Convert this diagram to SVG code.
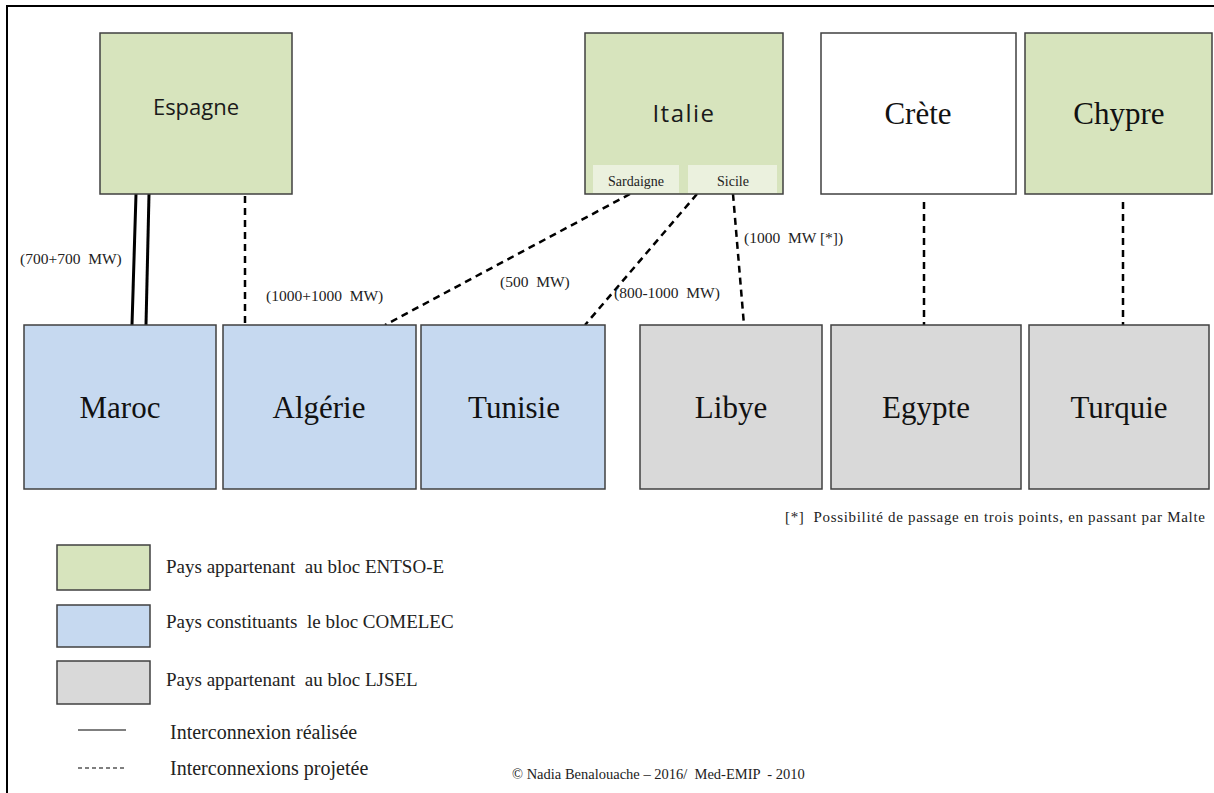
<svg xmlns="http://www.w3.org/2000/svg" width="1214" height="793" viewBox="0 0 1214 793">
<defs>
<style>
text{white-space:pre}
.g{fill:#d7e4bd;stroke:#404040;stroke-width:1.5}
.gl{fill:#ebf1de;stroke:none}
.b{fill:#c6d9f0;stroke:#404040;stroke-width:1.5}
.y{fill:#d9d9d9;stroke:#404040;stroke-width:1.5}
.w{fill:#ffffff;stroke:#404040;stroke-width:1.5}
.cs{font-family:"Liberation Serif","Times New Roman",serif;font-size:31px;fill:#111;text-anchor:middle}
.ss{font-family:"Open Sans","Liberation Sans",sans-serif;font-size:22px;fill:#1a1a1a;text-anchor:middle}
.sub{font-family:"Liberation Serif",serif;font-size:14px;fill:#222;text-anchor:middle}
.lbl{font-family:"Liberation Serif",serif;font-size:15.5px;fill:#222}
.leg{font-family:"Liberation Serif",serif;font-size:19px;fill:#222}
.leg2{font-family:"Liberation Serif",serif;font-size:20px;fill:#222}
.sm{font-family:"Liberation Serif",serif;font-size:15px;fill:#222}
.solid{stroke:#000;stroke-width:3;fill:none}
.dash{stroke:#000;stroke-width:2.5;stroke-dasharray:7 5;fill:none}
</style>
</defs>
<rect width="1214" height="793" fill="#fff"/>
<path d="M7,793 V6 H1214" fill="none" stroke="#000" stroke-width="2"/>

<g id="connectors">
<line class="solid" x1="136" y1="194" x2="132" y2="325"/>
<line class="solid" x1="149" y1="194" x2="146" y2="325"/>
<line class="dash" x1="245" y1="196" x2="245" y2="325"/>
<line class="dash" x1="630" y1="194" x2="385" y2="325"/>
<line class="dash" x1="697" y1="194" x2="585" y2="325"/>
<line class="dash" x1="733" y1="194" x2="744" y2="325"/>
<line class="dash" x1="924" y1="202" x2="924" y2="325"/>
<line class="dash" x1="1123" y1="202" x2="1123" y2="325"/>
<text class="lbl" x="20" y="264">(700+700  MW)</text>
<text class="lbl" x="266" y="301">(1000+1000  MW)</text>
<text class="lbl" x="500" y="287">(500  MW)</text>
<text class="lbl" x="614" y="298">(800-1000  MW)</text>
<text class="lbl" x="744" y="243">(1000  MW [*])</text>
</g>

<g id="espagne"><rect class="g" x="100" y="33" width="192" height="161"/><text class="ss" x="196" y="115">Espagne</text></g>
<g id="italie"><rect class="g" x="585" y="33" width="198" height="161"/>
<rect class="gl" x="593" y="165" width="86" height="28"/><rect class="gl" x="688" y="165" width="89" height="28"/>
<text class="ss" x="684" y="122" style="font-size:24px;letter-spacing:1.5px">Italie</text>
<text class="sub" x="636" y="186">Sardaigne</text><text class="sub" x="733" y="186">Sicile</text></g>
<g id="crete"><rect class="w" x="821" y="33" width="195" height="161"/><text class="cs" x="918" y="124">Crète</text></g>
<g id="chypre"><rect class="g" x="1025" y="33" width="187" height="161"/><text class="cs" x="1119" y="124">Chypre</text></g>

<g id="maroc"><rect class="b" x="24" y="325" width="192" height="164"/><text class="cs" x="120" y="418">Maroc</text></g>
<g id="algerie"><rect class="b" x="223" y="325" width="193" height="164"/><text class="cs" x="319" y="418">Algérie</text></g>
<g id="tunisie"><rect class="b" x="421" y="325" width="184" height="164"/><text class="cs" x="514" y="418">Tunisie</text></g>
<g id="libye"><rect class="y" x="640" y="325" width="182" height="164"/><text class="cs" x="731" y="418">Libye</text></g>
<g id="egypte"><rect class="y" x="831" y="325" width="190" height="164"/><text class="cs" x="926" y="418">Egypte</text></g>
<g id="turquie"><rect class="y" x="1029" y="325" width="180" height="164"/><text class="cs" x="1119" y="418">Turquie</text></g>

<g id="footnote"><text class="sm" x="785" y="522" textLength="420" lengthAdjust="spacing">[*]  Possibilité de passage en trois points, en passant par Malte</text></g>

<g id="legend">
<rect class="g" x="57" y="545" width="93" height="45"/>
<text class="leg" x="166" y="573">Pays appartenant  au bloc ENTSO-E</text>
<rect class="b" x="57" y="605" width="93" height="42"/>
<text class="leg" x="166" y="628">Pays constituants  le bloc COMELEC</text>
<rect class="y" x="57" y="661" width="93" height="43"/>
<text class="leg" x="166" y="686">Pays appartenant  au bloc LJSEL</text>
<line x1="78" y1="730" x2="126" y2="730" stroke="#000" stroke-width="1.2"/>
<text class="leg2" x="170" y="739">Interconnexion réalisée</text>
<line x1="78" y1="768" x2="126" y2="768" stroke="#000" stroke-width="1.2" stroke-dasharray="4 3"/>
<text class="leg2" x="170" y="775">Interconnexions projetée</text>
<text class="sm" x="512" y="779" style="font-size:14.5px">© Nadia Benalouache – 2016/  Med-EMIP  - 2010</text>
</g>
</svg>
